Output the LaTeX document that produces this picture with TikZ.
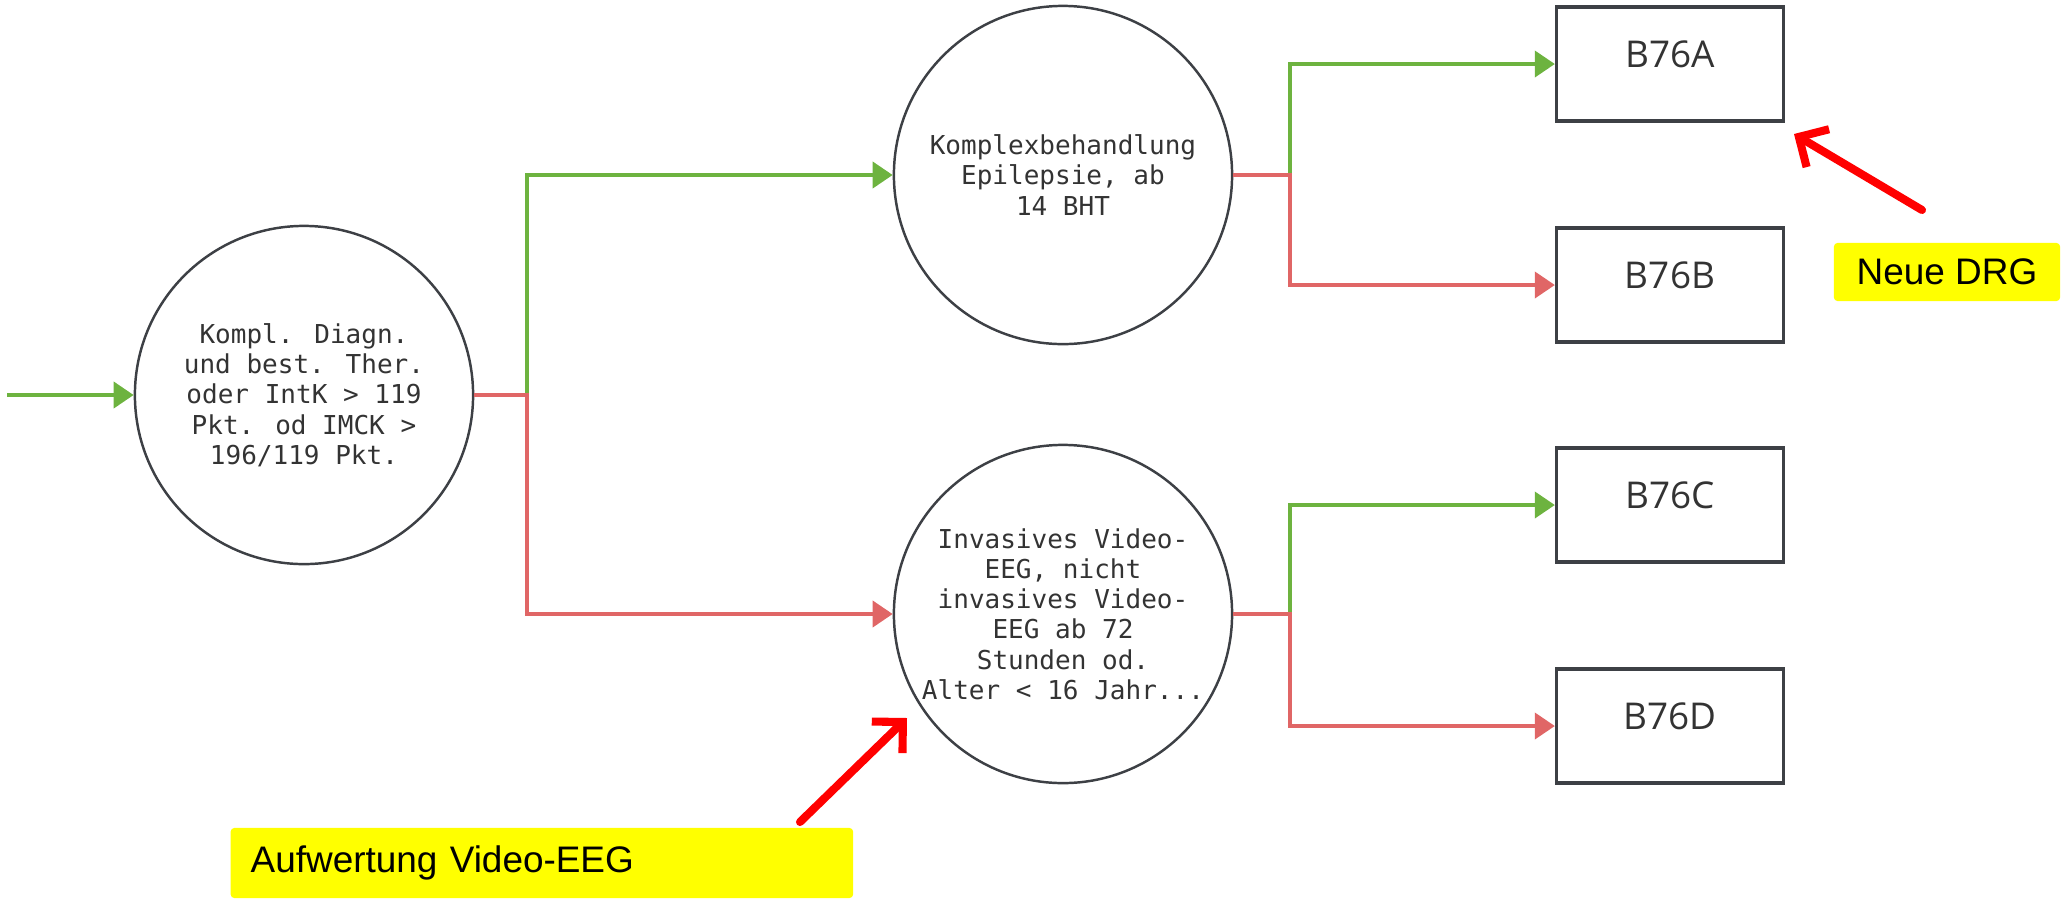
\documentclass[tikz,border=0pt]{standalone}
\usepackage{fontspec}
\setmainfont{Liberation Sans}
\newfontfamily\monofont{DejaVu Sans Mono}
\newfontfamily\codefont{Open Sans}
\usetikzlibrary{arrows.meta}
\definecolor{yesgreen}{HTML}{6DB33F}
\definecolor{nored}{HTML}{E06666}
\definecolor{outline}{HTML}{3D4045}
\definecolor{ink}{HTML}{333333}
\definecolor{marker}{RGB}{255,255,0}
\tikzset{
  decision/.style={circle, draw=outline, line width=0.7pt, minimum size=3.38cm, inner sep=0pt,
    align=center, text=ink, font=\monofont\fontsize{7.4}{8.6}\selectfont},
  drg/.style={rectangle, draw=outline, line width=0.9pt, minimum width=2.27cm, minimum height=1.14cm,
    text depth=0.2cm, text=ink, font=\codefont\fontsize{10.5}{12}\selectfont},
  yes/.style={draw=yesgreen, line width=1.1pt, -{Triangle[length=0.2cm,width=0.26cm]}},
  no/.style={draw=nored, line width=1.1pt, -{Triangle[length=0.2cm,width=0.26cm]}},
  note/.style={fill=marker, rounded corners=1pt, font=\fontsize{10.5}{12}\selectfont},
  pointer/.style={draw=red, line width=2.3pt, line cap=round, line join=round,
    -{Straight Barb[length=0.22cm,width=0.44cm]}}
}
\begin{document}
\begin{tikzpicture}[x=0.01cm, y=-0.01cm]
                \useasboundingbox (0,0) rectangle (2062,899);
                \coordinate (start) at (7, 395);
                \coordinate (P_1) at (304, 395);
                \coordinate (P_2) at (1063, 175);
                \coordinate (P_3) at (1063, 614);
                \node[decision] (diagn) at (P_1) {Kompl. Diagn.\\und best. Ther.\\oder IntK > 119\\Pkt. od IMCK >\\196/119 Pkt.};
                \node[decision] (kompl) at (P_2) {Komplexbehandlung\\Epilepsie, ab\\14 BHT};
                \node[decision] (eeg) at (P_3) {Invasives Video-\\EEG, nicht\\invasives Video-\\EEG ab 72\\Stunden od.\\Alter < 16 Jahr...};
                \node[drg] (B76A) at (1670, 64) {B76A};
                \node[drg] (B76B) at (1670, 285) {B76B};
                \node[drg] (B76C) at (1670, 505) {B76C};
                \node[drg] (B76D) at (1670, 726) {B76D};
                \draw[yes] (start) -- (diagn);
                \draw[yes] (diagn.east) -- ++(53, 0) |- (kompl.west);
                \draw[no] (diagn.east) -- ++(53, 0) |- (eeg.west);
                \draw[yes] (kompl.east) -- ++(57, 0) |- (B76A.west);
                \draw[no] (kompl.east) -- ++(57, 0) |- (B76B.west);
                \draw[yes] (eeg.east) -- ++(57, 0) |- (B76C.west);
                \draw[no] (eeg.east) -- ++(57, 0) |- (B76D.west);
                % Anmerkungen
                \node[note, minimum width=2.26cm, minimum height=0.58cm] (neu) at (1947, 272) {Neue DRG};
                \node[note, text width=5.82cm, inner xsep=0.2cm, minimum height=0.7cm, align=left, anchor=west] (aufw) at (230, 863) {Aufwertung Video-EEG};
                \coordinate (neuTail) at (1922, 210);
                \coordinate (neuTip) at (1794, 134);
                \coordinate (aufwTail) at (800, 822);
                \coordinate (aufwTip) at (907, 718);
                \draw[pointer] (neuTail) -- (neuTip);
                \draw[pointer] (aufwTail) -- (aufwTip);
            \end{tikzpicture}
\end{document}
